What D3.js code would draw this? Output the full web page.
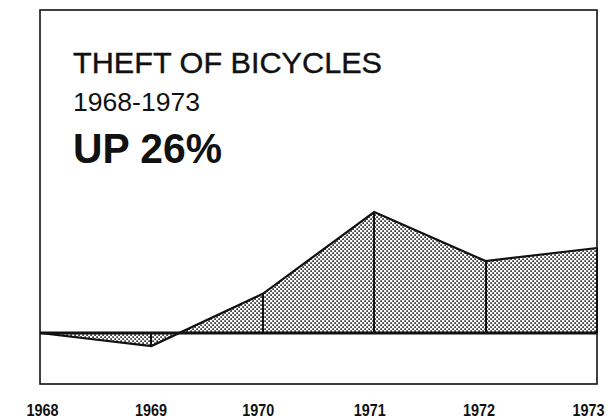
<!DOCTYPE html>
<html><head><meta charset="utf-8">
<script src="https://cdn.jsdelivr.net/npm/d3@7"></script>
<style>body{margin:0;background:#fff}svg{display:block}</style>
</head><body>
<script>
const years = ["1968","1969","1970","1971","1972","1973"];
const changePct = [0, -4, 12, 37, 22, 26];
const titleLines = ["THEFT OF BICYCLES", "1968-1973", "UP 26%"];

const W = 612, H = 420;
const svg = d3.select("body").append("svg").attr("width", W).attr("height", H);
const defs = svg.append("defs");
const pat = defs.append("pattern").attr("id","stip").attr("patternUnits","userSpaceOnUse")
  .attr("width",4).attr("height",4);
pat.append("rect").attr("x",0.3).attr("y",0.3).attr("width",1.6).attr("height",1.6).attr("fill","#111");
pat.append("rect").attr("x",2.3).attr("y",2.3).attr("width",1.6).attr("height",1.6).attr("fill","#111");

const x = d3.scalePoint().domain(years).range([40, 597]);
const y = d3.scaleLinear().domain([0, 26]).range([333, 248]);

const data = years.map((yr,i)=>({yr, v: changePct[i]}));

// frame
svg.append("rect").attr("x",40).attr("y",10).attr("width",557).attr("height",374)
  .attr("fill","none").attr("stroke","#111").attr("stroke-width",1.6);

// area
const area = d3.area().x(d=>x(d.yr)).y0(y(0)).y1(d=>y(d.v));
svg.append("path").datum(data).attr("d",area).attr("fill","url(#stip)");

// vertical drop lines
svg.selectAll("line.drop").data(data.slice(1)).join("line").attr("class","drop")
  .attr("x1",d=>Math.round(x(d.yr))).attr("x2",d=>Math.round(x(d.yr))).attr("y1",d=>y(d.v)).attr("y2",y(0))
  .attr("stroke","#111").attr("stroke-width",2);

// line
const line = d3.line().x(d=>x(d.yr)).y(d=>y(d.v));
svg.append("path").datum(data).attr("d",line).attr("fill","none")
  .attr("stroke","#111").attr("stroke-width",2.2).attr("stroke-linejoin","miter");

// baseline
svg.append("line").attr("x1",40).attr("x2",597).attr("y1",y(0)).attr("y2",y(0))
  .attr("stroke","#111").attr("stroke-width",3);

// x labels
const labelShift = [2, -1, -5, -5, -7, -9];
const xa = svg.append("g").attr("transform",`translate(0,${416})`)
  .call(d3.axisBottom(x).tickSize(0).tickPadding(0));
xa.select(".domain").remove();
xa.selectAll("text").attr("dy",0).attr("y",0)
  .attr("font-family","'Liberation Sans', Arial, sans-serif")
  .attr("font-weight","bold").attr("font-size",17).attr("fill","#111")
  .attr("textLength",32).attr("lengthAdjust","spacingAndGlyphs")
  .attr("dx",(d,i)=> labelShift[i]);

// titles
svg.append("text").attr("x",73).attr("y",73).text(titleLines[0])
  .attr("font-family","'Liberation Sans', Arial, sans-serif").attr("font-size",30)
  .attr("textLength",309).attr("lengthAdjust","spacingAndGlyphs").attr("fill","#111")
  .attr("stroke","#111").attr("stroke-width",0.4);
svg.append("text").attr("x",73).attr("y",111).text(titleLines[1])
  .attr("font-family","'Liberation Sans', Arial, sans-serif").attr("font-size",25)
  .attr("textLength",127).attr("lengthAdjust","spacingAndGlyphs").attr("fill","#111");
svg.append("text").attr("x",73).attr("y",163).text(titleLines[2])
  .attr("font-family","'Liberation Sans', Arial, sans-serif").attr("font-weight","bold")
  .attr("font-size",42).attr("textLength",149).attr("lengthAdjust","spacingAndGlyphs").attr("fill","#111");
</script>
</body></html>
